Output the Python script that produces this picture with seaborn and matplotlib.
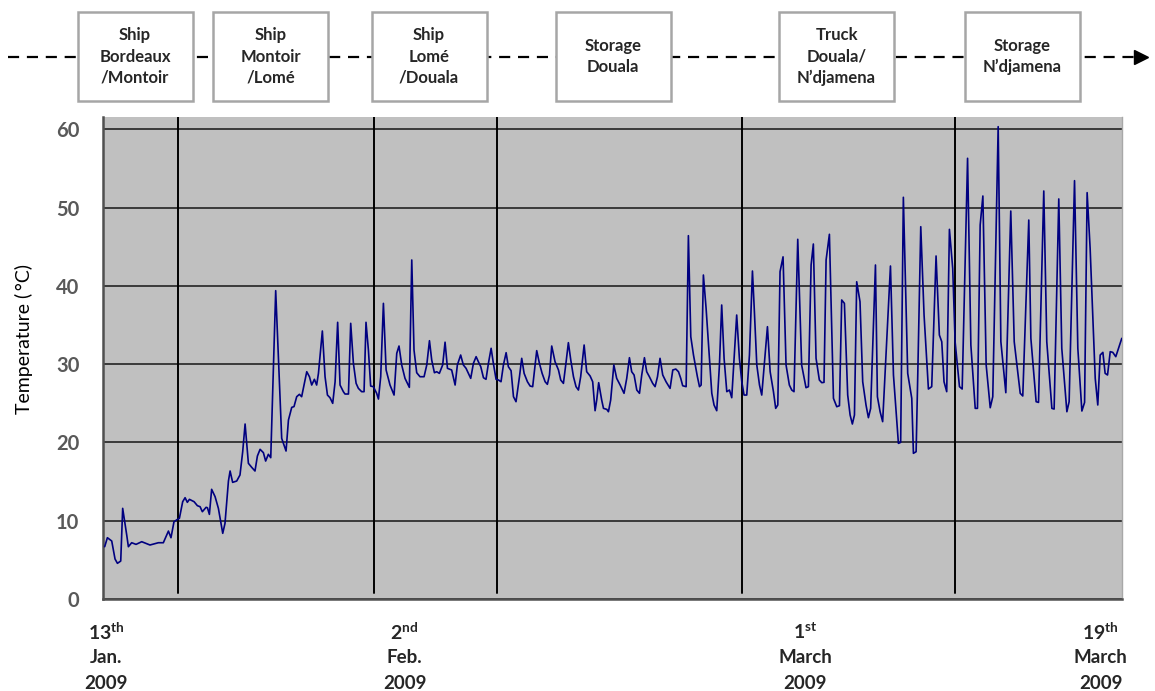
import numpy as np
import pandas as pd
import matplotlib
matplotlib.use('Agg')
import matplotlib.pyplot as plt
import matplotlib.transforms as mtransforms
from matplotlib.patches import Rectangle
import seaborn as sns

# time in days since 13 Jan 2009, temperature in degC
days = [0.11, 0.29, 0.58, 0.80, 0.96, 1.18, 1.31, 1.58, 1.69, 1.91, 2.20, 2.58, 3.13, 3.69, 4.02,
        4.36, 4.53, 4.73, 4.96, 5.09, 5.31, 5.47, 5.62, 5.76, 6.07, 6.29, 6.47, 6.62, 6.87, 6.96,
        7.09, 7.24, 7.47, 7.69, 7.98, 8.13, 8.36, 8.47, 8.64, 8.91, 9.13, 9.31, 9.47, 9.69, 9.91,
        10.13, 10.29, 10.47, 10.69, 10.84, 11.02, 11.18,
        11.51, 11.91, 12.20, 12.36, 12.58, 12.73, 12.91, 13.09, 13.24, 13.58, 13.76, 13.91, 14.09,
        14.24, 14.36, 14.62, 14.80, 14.96, 15.13, 15.31, 15.47, 15.64, 15.80, 16.02, 16.13, 16.36,
        16.51, 16.69, 16.87, 17.02, 17.24, 17.40, 17.53, 17.69, 17.84, 18.02, 18.24, 18.36, 18.51,
        18.69, 18.87, 19.13, 19.40, 19.58, 19.73, 19.91, 20.13, 20.42, 20.58, 20.73, 20.91, 21.13,
        21.40, 21.58, 21.76, 21.91, 22.09, 22.24, 22.42, 22.64, 22.80,
        22.96, 23.24, 23.47, 23.62, 23.84, 24.02, 24.20, 24.51, 24.69, 24.87, 25.02, 25.18, 25.36,
        25.53, 25.69, 25.87, 26.02, 26.20, 26.36, 26.53, 26.69, 26.87, 27.02, 27.20, 27.36, 27.53,
        27.76, 27.91, 28.07, 28.29, 28.47, 28.64, 28.91, 29.09, 29.27, 29.47, 29.62, 29.76, 29.91,
        30.13, 30.36, 30.51, 30.69, 30.87, 31.02, 31.18, 31.36, 31.53, 31.69, 31.84, 32.07, 32.24,
        32.47, 32.64, 32.80, 32.91, 33.04, 33.24, 33.36, 33.58, 33.69, 33.84,
        34.05, 34.24, 34.47, 34.73, 34.91, 35.09, 35.24, 35.40, 35.58, 35.76, 35.91, 36.09, 36.24,
        36.42, 36.64, 36.80, 36.96, 37.13, 37.31, 37.53, 37.80, 37.98, 38.18, 38.36, 38.51, 38.64,
        38.87, 39.02, 39.18, 39.36, 39.62, 39.76, 39.87, 40.02, 40.20, 40.42, 40.58, 40.73, 40.91,
        41.09, 41.24, 41.40, 41.58, 41.76, 41.91, 42.07, 42.24, 42.42, 42.58, 42.73, 42.91, 43.09,
        43.29, 43.42, 43.58, 43.76, 43.91, 44.07, 44.29, 44.47, 44.69, 44.84, 44.98, 45.13, 45.33,
        45.53, 45.75, 45.91, 46.06, 46.31, 46.57, 46.86, 47.02, 47.20, 47.35, 47.53, 47.75, 47.91,
        48.06, 48.20, 48.42, 48.69, 48.91, 49.09, 49.24, 49.42, 49.64, 49.80, 49.95, 50.09, 50.24,
        50.46, 50.64, 50.86, 51.02, 51.17, 51.49, 51.62, 51.80, 51.97, 52.49, 52.69, 53.02, 53.17,
        53.35, 53.64, 53.91, 54.02, 54.20, 54.31, 54.51, 54.73, 55.02, 55.24, 55.53, 55.75, 55.91,
        56.06, 56.24, 56.42, 56.64,
        56.80, 57.09, 57.27, 57.63, 57.85, 58.14, 58.29, 58.47, 58.65, 58.87, 59.14, 59.31, 59.67,
        59.85, 60.18, 60.51, 60.74, 61.14, 61.31, 61.71, 61.85, 62.20, 62.36, 62.71, 62.91, 63.25,
        63.40, 63.71, 63.91, 64.25, 64.40, 64.76, 64.98, 65.25, 65.43, 65.60, 65.80, 66.14, 66.31,
        66.47, 66.65, 66.80, 66.96, 67.14, 67.31, 67.51, 67.69, 67.91]
temps = [6.68, 7.83, 7.41, 5.11, 4.56, 4.85, 11.58, 8.17, 6.68, 7.19, 6.98, 7.32, 6.90, 7.19, 7.19,
         8.68, 7.83, 9.87, 10.17, 10.30, 12.43, 12.94, 12.35, 12.73, 12.43, 11.92, 11.79, 11.15, 11.71, 11.66,
         10.81, 14.01, 13.07, 11.58, 8.39, 9.66, 15.07, 16.35, 14.90, 15.07, 15.84, 18.81, 22.35, 17.33, 16.82,
         16.35, 18.26, 19.12, 18.69, 17.62, 18.48, 18.05,
         39.38, 20.52, 18.90, 22.86, 24.48, 24.57, 25.84, 26.14, 25.84, 29.03, 28.39, 27.33, 28.06,
         27.33, 28.82, 34.23, 28.39, 26.05, 25.71, 24.99, 27.75, 35.34, 27.33, 26.48, 26.18, 26.18,
         35.21, 30.10, 27.55, 26.91, 26.48, 26.48, 35.34, 31.80, 27.20, 27.12, 26.27, 25.54, 28.39,
         37.76, 29.25, 27.33, 26.05, 31.38, 32.31, 29.89, 28.18, 27.03, 43.30, 31.80, 28.90, 28.39,
         28.39, 29.89, 32.99, 30.52, 28.90, 29.03, 28.82, 29.89, 32.80,
         29.46, 29.25, 27.33, 29.89, 31.16, 29.89, 29.46, 28.18, 30.10, 30.95, 30.31, 29.67, 28.26,
         28.06, 30.10, 32.02, 30.10, 28.06, 27.97, 27.75, 29.89, 31.46, 29.67, 29.16, 25.84, 25.20,
         28.39, 30.74, 28.82, 27.75, 27.20, 27.12, 31.72, 30.10, 28.82, 27.75, 27.42, 28.61, 32.31,
         30.31, 29.25, 27.97, 27.54, 30.31, 32.74, 30.52, 28.39, 27.12, 26.69, 28.39, 32.44, 29.03,
         28.48, 27.75, 24.05, 25.42, 27.63, 25.42, 24.35, 24.22, 23.92, 25.42,
         29.89, 28.18, 27.33, 26.27, 28.18, 30.82, 29.03, 28.61, 26.69, 26.27, 28.61, 30.82, 29.03,
         28.39, 27.54, 27.12, 28.39, 30.74, 28.61, 27.75, 26.90, 29.25, 29.37, 29.03, 28.18, 27.24,
         27.12, 46.40, 33.50, 31.16, 28.39, 27.12, 27.33, 41.38, 37.13, 30.74, 26.27, 24.78, 24.05,
         29.89, 37.55, 30.74, 26.48, 26.69, 25.71, 30.74, 36.27, 30.74, 27.75, 26.05, 26.05, 31.16,
         41.89, 36.69, 29.89, 27.33, 26.05, 29.67, 34.78, 29.03, 26.48, 24.35, 24.78, 41.81, 43.70,
         29.89, 27.33, 26.69, 26.48, 45.94, 29.89, 26.99, 27.12, 42.66, 45.34, 30.74, 27.97, 27.63,
         27.67, 43.30, 46.58, 25.63, 24.56, 24.69, 38.19, 37.76, 26.05, 23.50, 22.35, 23.50, 40.52,
         37.97, 27.75, 24.78, 23.16, 24.35, 42.66, 25.84, 23.92, 22.65, 42.53, 28.61, 19.88, 20.01,
         51.30, 28.82, 25.63, 18.61, 18.81, 28.61, 47.55, 36.27, 26.82, 27.12, 43.81, 33.72, 32.86,
         27.75, 26.48, 47.21, 42.23,
         32.86, 27.12, 26.82, 56.28, 32.44, 24.35, 24.35, 47.77, 51.47, 29.89, 24.43, 25.84, 60.32,
         32.86, 26.35, 49.55, 32.86, 26.27, 25.93, 48.40, 33.29, 25.20, 25.11, 52.11, 32.86, 24.35,
         24.26, 51.09, 32.02, 23.92, 25.20, 53.43, 32.02, 24.01, 25.11, 51.90, 44.79, 28.18, 24.78,
         31.16, 31.50, 28.82, 28.61, 31.59, 31.50, 30.95, 32.02, 33.29]

phase_bounds = [5.0, 18.09, 26.27, 42.62, 56.77]
phase_labels = ['Ship\nBordeaux\n/Montoir', 'Ship\nMontoir\n/Lomé', 'Ship\nLomé\n/Douala',
                'Storage\nDouala', 'Truck\nDouala/\nN\u2019djamena', 'Storage\nN\u2019djamena']
date_days = [0.2, 20.1, 46.8, 66.5]
date_nums = ['13', '2', '1', '19']
date_sups = ['th', 'nd', 'st', 'th']
date_months = ['Jan.', 'Feb.', 'March', 'March']
date_years = ['2009', '2009', '2009', '2009']
yticks = [0, 10, 20, 30, 40, 50, 60]

df = pd.DataFrame({'day': days, 'temp': temps})

sns.set_style('white', {'axes.facecolor': '#c0c0c0'})
plt.rcParams['font.family'] = ['Lato', 'DejaVu Sans']
plt.rcParams['mathtext.fontset'] = 'custom'
plt.rcParams['mathtext.rm'] = 'Lato'
plt.rcParams['mathtext.bf'] = 'Lato:bold'

fig = plt.figure(figsize=(11.55, 6.91), dpi=100)
ax = fig.add_axes([0.0892, 0.1331, 0.8823, 0.6976])

sns.lineplot(data=df, x='day', y='temp', estimator=None, color='#000080', linewidth=1.2, ax=ax, zorder=3)

ax.set_xlim(0, 67.93)
ax.set_ylim(0, 61.56)
ax.set_yticks(yticks)
ax.set_yticklabels([str(v) for v in yticks], fontweight='bold', color='#595959', fontsize=14.5)
ax.tick_params(axis='y', length=4, width=1.5, color='#404040', pad=13)
ax.set_xticks(np.linspace(0, 66.5, 31))
ax.set_xticklabels([])
ax.tick_params(axis='x', length=5, width=1.2, color='#404040')
ax.grid(axis='y', color='#3a3a3a', linewidth=1.4, zorder=1)
ax.set_axisbelow(True)
ax.set_xlabel('')
ax.set_ylabel('Temperature (\u2009°C)', fontsize=14, color='black')
ax.yaxis.set_label_coords(-0.069, 0.54)

for s in ['left', 'bottom']:
    ax.spines[s].set_color('#505050')
    ax.spines[s].set_linewidth(1.8)
ax.spines['top'].set_visible(False)
ax.spines['right'].set_color('#a8a8a8')
ax.spines['right'].set_linewidth(1.0)

for b in phase_bounds:
    ax.axvline(b, ymin=0.013, ymax=1, color='black', linewidth=1.4, zorder=2)

# date labels under the axis
trans = mtransforms.blended_transform_factory(ax.transData, ax.transAxes)
for d, n, s, m, yr in zip(date_days, date_nums, date_sups, date_months, date_years):
    ax.text(d, -0.068, r'$\mathbf{%s^{%s}}$' % (n, s), transform=trans, ha='center', va='center',
            fontsize=14, clip_on=False)
    ax.text(d, -0.121, m, transform=trans, ha='center', va='center', fontsize=13.5,
            fontweight='bold', clip_on=False)
    ax.text(d, -0.175, yr, transform=trans, ha='center', va='center', fontsize=13.5,
            fontweight='bold', clip_on=False)

# process chain on top
top = fig.add_axes([0, 0, 1, 1])
top.set_xlim(0, 1155)
top.set_ylim(691, 0)
top.axis('off')
top.plot([8, 1138], [57, 57], color='black', linewidth=1.6, linestyle=(0, (5, 3.5)), zorder=1)
top.plot([1141], [57], marker='>', markersize=10, color='black', zorder=1)
box_centers = [135, 270.5, 429, 613, 836.5, 1022]
for cx, lab in zip(box_centers, phase_labels):
    top.add_patch(Rectangle((cx - 57.5, 12), 115, 89, facecolor='white', edgecolor='#a6a6a6',
                            linewidth=1.8, zorder=2))
    top.text(cx, 56.5, lab, ha='center', va='center', fontsize=12, fontweight='bold',
             color='#262626', linespacing=1.4, zorder=3)

fig.savefig('out.png', dpi=100)
